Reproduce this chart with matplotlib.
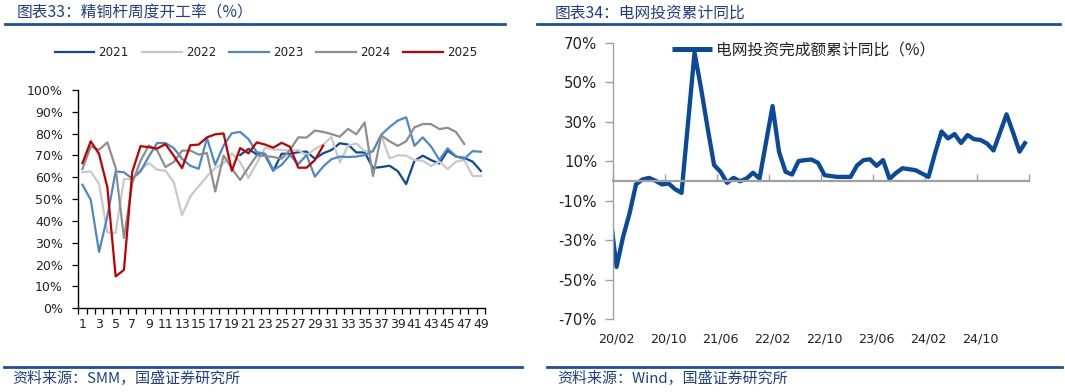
import numpy as np
import matplotlib
matplotlib.use('Agg')
import matplotlib.pyplot as plt
from matplotlib.lines import Line2D

CJK = ['Noto Sans CJK SC', 'DejaVu Sans']
plt.rcParams['font.family'] = ['DejaVu Sans']

nan = np.nan
# ---------------- Left chart data: weekly operating rate of copper rod (%) ----------------
weeks = list(range(1, 50))
week_labels = [str(w) for w in weeks[::2]]

rate_2021 = [nan] * 19 + [70.2, 73.0, 70.5, 70.2, 63.0, 70.8, 70.8, 71.5, 71.8, 68.5,
                          71.0, 72.5, 75.6, 75.0, 71.4, 71.4, 64.3, 64.7, 65.3, 62.8,
                          56.9, 67.6, 69.9, 67.9, 66.3, 72.2, 69.5, 68.9, 67.2, 62.9]
rate_2022 = [62.3, 62.7, 56.9, 34.8, 34.5, 59.2, 59.2, 63.5, 66.5, 63.5,
             63.0, 57.8, 42.6, 51.3, 55.9, 60.4, 64.3, 66.4, 71.0, 67.0,
             59.7, 66.5, 73.5, 72.8, 72.6, 72.1, 72.5, 70.0, 73.0, 75.0,
             78.4, 66.8, 74.5, 75.5, 72.0, 72.0, 79.1, 68.7, 70.1, 69.9,
             67.9, 67.6, 65.2, 67.2, 63.8, 67.2, 67.9, 60.6, 60.6]
rate_2023 = [56.6, 49.7, 25.8, 42.1, 62.7, 62.3, 59.4, 62.7, 69.6, 75.7,
             75.7, 73.4, 68.5, 65.3, 63.9, 78.0, 65.7, 74.5, 80.2, 80.8,
             77.5, 71.5, 70.8, 63.3, 65.7, 70.2, 66.0, 70.2, 60.3, 64.9,
             68.3, 69.5, 69.3, 69.5, 70.2, 72.0, 79.5, 83.0, 86.0, 87.5,
             74.4, 78.3, 74.1, 68.0, 73.3, 69.6, 68.5, 72.0, 71.7]
rate_2024 = [63.8, 74.2, 72.6, 76.0, 64.3, 32.2, 57.4, 67.6, 74.6, 72.3,
             64.7, 67.0, 72.2, 72.3, 70.4, 71.1, 53.5, 70.0, 64.0, 58.8,
             64.5, 70.0, 69.8, 69.3, 68.5, 72.5, 78.3, 78.2, 81.4, 80.8,
             79.8, 78.6, 82.2, 79.7, 85.1, 60.6, 79.2, 76.5, 74.4, 76.5,
             82.9, 84.4, 84.4, 82.1, 82.7, 80.8, 75.3, nan, nan]
rate_2025 = [66.5, 76.5, 70.7, 55.5, 14.6, 17.6, 62.5, 74.3, 73.8, 73.2,
             75.2, 69.9, 64.2, 74.7, 75.0, 78.3, 79.7, 80.1, 63.0, 73.4,
             71.0, 76.0, 75.0, 73.6, 75.8, 74.0, 64.4, 64.4, 67.9, 74.5] + [nan] * 19

series_names = ['2021', '2022', '2023', '2024', '2025']
series_vals = [rate_2021, rate_2022, rate_2023, rate_2024, rate_2025]
series_colors = ['#0B4A9B', '#C9C9C9', '#4F88C8', '#8E8E8E', '#C00000']

# ---------------- Right chart data: grid investment cumulative YoY (%) ----------------
# first entry is only partly visible (clipped at the left edge of the axis)
grid_dates = ['19/12',
              '20/02', '20/03', '20/04', '20/05', '20/06', '20/07', '20/08', '20/09', '20/10', '20/11', '20/12',
              '21/02', '21/03', '21/04', '21/05', '21/06', '21/07', '21/08', '21/09', '21/10', '21/11', '21/12',
              '22/02', '22/03', '22/04', '22/05', '22/06', '22/07', '22/08', '22/09', '22/10', '22/11', '22/12',
              '23/02', '23/03', '23/04', '23/05', '23/06', '23/07', '23/08', '23/09', '23/10', '23/11', '23/12',
              '24/02', '24/03', '24/04', '24/05', '24/06', '24/07', '24/08', '24/09', '24/10', '24/11', '24/12',
              '25/02', '25/03', '25/04', '25/05']
grid_yoy = [10.0,
            -43.6, -28.4, -16.5, -1.7, 0.7, 1.5, 0.0, -1.8, -1.3, -4.2, -6.1,
            65.0, 46.9, 27.0, 8.0, 4.6, -1.0, 1.5, -0.2, 1.2, 4.1, 1.2,
            37.9, 14.7, 4.6, 3.2, 10.0, 10.5, 10.8, 9.1, 2.9, 2.4, 2.0,
            2.0, 7.8, 10.5, 10.9, 7.6, 10.5, 1.0, 4.0, 6.4, 5.9, 5.4,
            2.0, 14.0, 25.0, 21.5, 23.7, 19.2, 23.2, 21.1, 20.7, 18.9, 15.4,
            33.7, 24.5, 14.8, 20.0]
grid_tick_labels = ['20/02', '20/10', '21/06', '22/02', '22/10', '23/06', '24/02', '24/10']


def month_index(s):
    yy, mm = s.split('/')
    return (int(yy) - 20) * 12 + (int(mm) - 2)


W, H = 1065, 392
fig = plt.figure(figsize=(W / 100, H / 100), dpi=100)

TITLE_C = '#1F3F8C'
LINE_C = '#1E4E9E'

# ---------------- Left axes ----------------
ax1 = fig.add_axes([78.3 / W, 1 - 308.3 / H, (485 - 78.3) / W, (308.3 - 90) / H])
for name, vals, col in zip(series_names, series_vals, series_colors):
    ax1.plot(weeks, vals, color=col, lw=1.6, label=name, solid_joinstyle='round')
ax1.set_xlim(0.5, 49.5)
ax1.set_ylim(0, 100)
ax1.set_yticks(range(0, 101, 10))
ax1.set_yticklabels([f'{v}%' for v in range(0, 101, 10)], fontsize=9, color='#222222')
ax1.set_xticks(np.arange(0.5, 50, 1))
ax1.set_xticklabels([])
ax1.set_xticks(weeks[::2], minor=True)
ax1.set_xticklabels(week_labels, minor=True, fontsize=9, color='#222222')
ax1.tick_params(axis='x', which='major', length=4, width=0.9, direction='out')
ax1.tick_params(axis='x', which='minor', length=0, pad=7)
ax1.tick_params(axis='y', length=4, width=0.9, pad=7)
for sp in ['top', 'right']:
    ax1.spines[sp].set_visible(False)
for sp in ['left', 'bottom']:
    ax1.spines[sp].set_linewidth(1.0)
    ax1.spines[sp].set_color('black')
fs_leg = 8.6
leg1 = ax1.legend(loc='center left', bbox_to_anchor=(55 / W, 1 - 53 / H), bbox_transform=fig.transFigure,
                  ncol=5, frameon=False, fontsize=fs_leg, handlelength=3.3, handletextpad=0.35,
                  columnspacing=1.1, borderpad=0, borderaxespad=0)
for t in leg1.get_texts():
    t.set_color('#222222')

# ---------------- Right axes ----------------
ax2 = fig.add_axes([613.3 / W, 1 - 319 / H, (1029.3 - 613.3) / W, (319 - 42.7) / H])
xm = [month_index(d) + 0.5 for d in grid_dates]
ax2.plot(xm, grid_yoy, color='#0B4A9B', lw=3.1, solid_joinstyle='round', solid_capstyle='butt',
         label='电网投资完成额累计同比（%）')
ax2.set_xlim(0, 64)
ax2.set_ylim(-70, 70)
yt = list(range(-70, 71, 20))
ax2.set_yticks(yt)
ax2.set_yticklabels([f'{v}%' for v in yt], fontsize=10.7, color='#222222')
ax2.tick_params(axis='y', length=5.5, width=1.0, color='#A0A0A0', pad=6)
for sp in ['top', 'right']:
    ax2.spines[sp].set_visible(False)
ax2.spines['left'].set_color('#A0A0A0')
ax2.spines['left'].set_linewidth(1.0)
ax2.spines['bottom'].set_position(('data', 0))
ax2.spines['bottom'].set_color('#A0A0A0')
ax2.spines['bottom'].set_linewidth(1.6)
ax2.set_xticks(range(0, 65, 8))
ax2.set_xticklabels([])
ax2.tick_params(axis='x', direction='in', length=5, width=1.0, color='#A0A0A0')
sec = ax2.secondary_xaxis(0.0)
sec.set_xticks([i * 8 + 0.5 for i in range(len(grid_tick_labels))])
sec.set_xticklabels(grid_tick_labels, fontsize=9.2, color='#222222')
sec.tick_params(length=0, pad=10)
sec.spines['bottom'].set_visible(False)

leg2 = ax2.legend(loc='center left', bbox_to_anchor=(671.7 / W, 1 - 50 / H), bbox_transform=fig.transFigure,
                  frameon=False, prop={'family': CJK, 'size': 11.3}, handlelength=2.55,
                  handletextpad=0.28, borderpad=0, borderaxespad=0)
for line in leg2.get_lines():
    line.set_linewidth(3.6)
for t in leg2.get_texts():
    t.set_color('#222222')

# ---------------- Titles, rules, sources ----------------
fig.text(17 / W, 1 - 13 / H, '图表33：精铜杆周度开工率（%）', fontsize=11.3, color=TITLE_C,
         family=CJK, style='italic', va='center', ha='left')
fig.text(555 / W, 1 - 13 / H, '图表34：电网投资累计同比', fontsize=11.3, color=TITLE_C,
         family=CJK, style='italic', va='center', ha='left')
fig.add_artist(Line2D([5 / W, 505 / W], [1 - 23.5 / H] * 2, color=LINE_C, lw=2.0, transform=fig.transFigure))
fig.add_artist(Line2D([537 / W, 1060 / W], [1 - 23.5 / H] * 2, color=LINE_C, lw=2.0, transform=fig.transFigure))
fig.add_artist(Line2D([4 / W, 522 / W], [1 - 366.5 / H] * 2, color=LINE_C, lw=2.0, transform=fig.transFigure))
fig.add_artist(Line2D([547 / W, 1062 / W], [1 - 366.5 / H] * 2, color=LINE_C, lw=2.0, transform=fig.transFigure))
fig.text(12 / W, 1 - 379 / H, '资料来源：SMM，国盛证券研究所', fontsize=10.8, color=TITLE_C,
         family=CJK, style='italic', va='center', ha='left')
fig.text(557 / W, 1 - 379 / H, '资料来源：Wind，国盛证券研究所', fontsize=10.8, color=TITLE_C,
         family=CJK, style='italic', va='center', ha='left')

fig.savefig('out.png', dpi=100)
